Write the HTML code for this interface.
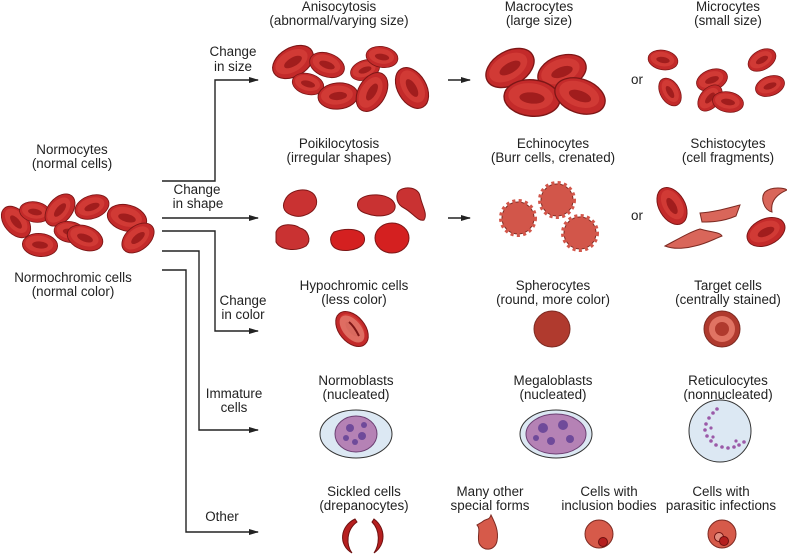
<!DOCTYPE html>
<html><head><meta charset="utf-8"><style>
html,body{margin:0;padding:0;background:#fff}
svg{display:block}
text{font-family:"Liberation Sans",sans-serif;font-size:13.4px;fill:#222;text-anchor:middle}
</style></head><body>
<svg width="787" height="554" viewBox="0 0 787 554" xmlns="http://www.w3.org/2000/svg">
<defs>
<marker id="ar" markerWidth="10" markerHeight="8" refX="9" refY="4" orient="auto" markerUnits="userSpaceOnUse">
<path d="M0,1 L10,4 L0,7 Z" fill="#222"/></marker>
<g id="c">
<ellipse cx="0" cy="0" rx="20" ry="13" fill="#c32a2a" stroke="#7d1616" stroke-width="1"/>
<ellipse cx="-1" cy="-1" rx="16" ry="9.5" fill="#d13a35"/>
<ellipse cx="0" cy="0" rx="9" ry="4" fill="#a11d1d"/>
</g>
</defs>

<g stroke="#222" stroke-width="1.4" fill="none">
<polyline points="162,181 215,181 215,80 258,80" marker-end="url(#ar)"/>
<polyline points="162,218 258,218" marker-end="url(#ar)"/>
<polyline points="162,231 215,231 215,331 258,331" marker-end="url(#ar)"/>
<polyline points="162,251 199,251 199,430 258,430" marker-end="url(#ar)"/>
<polyline points="162,270 186,270 186,532 258,532" marker-end="url(#ar)"/>
<line x1="448" y1="80" x2="470" y2="80" marker-end="url(#ar)"/>
<line x1="448" y1="218" x2="470" y2="218" marker-end="url(#ar)"/>
</g>

<text x="72" y="154">Normocytes</text><text x="72" y="168">(normal cells)</text>
<text x="73" y="282">Normochromic cells</text><text x="73" y="296">(normal color)</text>
<text x="233" y="56">Change</text><text x="233" y="71">in size</text>
<text x="197" y="194">Change</text><text x="198" y="208">in shape</text>
<text x="243" y="305">Change</text><text x="243" y="319">in color</text>
<text x="234" y="398">Immature</text><text x="234" y="412">cells</text>
<text x="222" y="521">Other</text>
<text x="339" y="11">Anisocytosis</text><text x="339" y="25">(abnormal/varying size)</text>
<text x="539" y="11">Macrocytes</text><text x="539" y="25">(large size)</text>
<text x="728" y="11">Microcytes</text><text x="728" y="25">(small size)</text>
<text x="339" y="148">Poikilocytosis</text><text x="339" y="162">(irregular shapes)</text>
<text x="553" y="148">Echinocytes</text><text x="553" y="162">(Burr cells, crenated)</text>
<text x="728" y="148">Schistocytes</text><text x="728" y="162">(cell fragments)</text>
<text x="354" y="290">Hypochromic cells</text><text x="354" y="304">(less color)</text>
<text x="553" y="290">Spherocytes</text><text x="553" y="304">(round, more color)</text>
<text x="728" y="290">Target cells</text><text x="728" y="304">(centrally stained)</text>
<text x="356" y="385">Normoblasts</text><text x="356" y="399">(nucleated)</text>
<text x="553" y="385">Megaloblasts</text><text x="553" y="399">(nucleated)</text>
<text x="728" y="385">Reticulocytes</text><text x="728" y="399">(nonnucleated)</text>
<text x="364" y="496">Sickled cells</text><text x="364" y="510">(drepanocytes)</text>
<text x="490" y="496">Many other</text><text x="490" y="510">special forms</text>
<text x="609" y="496">Cells with</text><text x="609" y="510">inclusion bodies</text>
<text x="721" y="496">Cells with</text><text x="721" y="510">parasitic infections</text>
<text x="637" y="84">or</text><text x="637" y="220">or</text>

<use href="#c" transform="translate(16,222) rotate(50) scale(0.9)"/>
<use href="#c" transform="translate(35,212) rotate(10) scale(0.78)"/>
<use href="#c" transform="translate(60,210) rotate(-50) scale(0.92)"/>
<use href="#c" transform="translate(92,207) rotate(-20) scale(0.88)"/>
<use href="#c" transform="translate(70,232) rotate(10) scale(0.8)"/>
<use href="#c" transform="translate(127,218) rotate(15) scale(1)"/>
<use href="#c" transform="translate(40,245) rotate(5) scale(0.88)"/>
<use href="#c" transform="translate(85,238) rotate(20) scale(0.92)"/>
<use href="#c" transform="translate(138,238) rotate(-40) scale(0.92)"/>

<use href="#c" transform="translate(293,62) rotate(-30) scale(1.1)"/>
<use href="#c" transform="translate(327,65) rotate(20) scale(0.9)"/>
<use href="#c" transform="translate(308,84) rotate(15) scale(0.8)"/>
<use href="#c" transform="translate(338,96) rotate(-5) scale(1)"/>
<use href="#c" transform="translate(365,70) rotate(-20) scale(0.75)"/>
<use href="#c" transform="translate(382,57) rotate(10) scale(0.8)"/>
<use href="#c" transform="translate(372,92) rotate(-60) scale(1.05)"/>
<use href="#c" transform="translate(412,88) rotate(60) scale(1.1)"/>

<use href="#c" transform="translate(510,68) rotate(-30) scale(1.3)"/>
<use href="#c" transform="translate(562,72) rotate(-20) scale(1.25)"/>
<use href="#c" transform="translate(532,98) rotate(5) scale(1.4)"/>
<use href="#c" transform="translate(580,96) rotate(20) scale(1.3)"/>

<use href="#c" transform="translate(663,60) rotate(10) scale(0.75)"/>
<use href="#c" transform="translate(670,92) rotate(60) scale(0.75)"/>
<use href="#c" transform="translate(712,80) rotate(-20) scale(0.8)"/>
<use href="#c" transform="translate(710,98) rotate(-50) scale(0.75)"/>
<use href="#c" transform="translate(728,102) rotate(10) scale(0.78)"/>
<use href="#c" transform="translate(762,60) rotate(-30) scale(0.75)"/>
<use href="#c" transform="translate(770,86) rotate(-20) scale(0.75)"/>

<g stroke="#7d1616" stroke-width="1">
<path d="M285,200 C290,188 312,186 316,198 C320,210 305,218 295,216 C285,214 281,208 285,200Z" fill="#c93232"/>
<path d="M276,232 C280,222 295,224 300,228 C308,230 312,240 306,246 C296,252 280,250 276,242Z" fill="#c93232"/>
<path d="M334,232 C345,228 360,228 364,236 C368,248 350,252 340,250 C330,248 328,238 334,232Z" fill="#d42020"/>
<path d="M358,202 C362,192 392,192 395,205 C397,216 378,218 368,214 C360,212 356,208 358,202Z" fill="#c93232"/>
<path d="M398,192 C402,186 418,186 420,196 C422,206 428,214 424,220 C418,222 412,212 404,208 C396,204 396,196 398,192Z" fill="#c93232"/>
<ellipse cx="392" cy="238" rx="17" ry="15" fill="#d42020"/>
</g>

<g fill="#d2564a" stroke="#7d2a22">
<circle cx="518" cy="218" r="16" stroke-width="1"/>
<circle cx="518" cy="218" r="17" fill="none" stroke="#d2564a" stroke-width="4" stroke-dasharray="3 3.2"/>
<circle cx="557" cy="200" r="16" stroke-width="1"/>
<circle cx="557" cy="200" r="17" fill="none" stroke="#d2564a" stroke-width="4" stroke-dasharray="3 3.2"/>
<circle cx="580" cy="233" r="16" stroke-width="1"/>
<circle cx="580" cy="233" r="17" fill="none" stroke="#d2564a" stroke-width="4" stroke-dasharray="3 3.2"/>
</g>

<use href="#c" transform="translate(672,206) rotate(60) scale(1)"/>
<use href="#c" transform="translate(766,232) rotate(-25) scale(1)"/>
<g fill="#d9665a" stroke="#7d2a22" stroke-width="1">
<path d="M765,192 C772,186 785,188 787,190 C778,194 770,200 772,212 C764,210 760,198 765,192Z"/>
<path d="M700,213 C715,212 728,208 740,205 L736,216 C722,222 710,222 702,222Z"/>
<path d="M665,246 C680,238 690,232 700,229 C710,232 720,232 722,236 C712,240 705,244 695,246 C688,248 675,250 665,246Z"/>
</g>

<use href="#c" transform="translate(352,329) rotate(50) scale(1)"/>
<ellipse cx="352" cy="329" rx="16" ry="9" transform="rotate(50 352 329)" fill="#e2776a" opacity="0.85"/>
<path d="M349,322 C354,326 357,332 359,336" stroke="#7d1616" stroke-width="2" fill="none"/>
<circle cx="552" cy="329" r="18" fill="#b03a2e" stroke="#7d2a22"/>
<circle cx="722" cy="329" r="18" fill="#b03a2e" stroke="#7d2a22"/>
<circle cx="722" cy="329" r="13" fill="#e07363"/>
<circle cx="722" cy="329" r="7" fill="#b03a2e"/>

<ellipse cx="356" cy="434" rx="36" ry="24" fill="#dce8f3" stroke="#333" stroke-width="1"/>
<ellipse cx="356" cy="434" rx="21" ry="18" fill="#b582b5" stroke="#6b3f72"/>
<g fill="#6f4a9a"><circle cx="350" cy="428" r="4"/><circle cx="362" cy="436" r="4"/><circle cx="355" cy="442" r="3"/><circle cx="364" cy="425" r="3"/><circle cx="346" cy="438" r="3"/></g>
<ellipse cx="556" cy="434" rx="36" ry="24" fill="#dce8f3" stroke="#333" stroke-width="1"/>
<ellipse cx="556" cy="434" rx="30" ry="20" fill="#b582b5" stroke="#6b3f72"/>
<g fill="#6f4a9a"><circle cx="543" cy="428" r="5"/><circle cx="563" cy="425" r="5"/><circle cx="551" cy="441" r="4"/><circle cx="570" cy="439" r="4"/><circle cx="536" cy="438" r="3"/></g>
<circle cx="720" cy="431" r="31" fill="#dce8f3" stroke="#333" stroke-width="1"/>
<g fill="#9b5aa8">
<circle cx="713" cy="413" r="1.8"/><circle cx="709" cy="418" r="1.8"/><circle cx="706" cy="424" r="1.8"/><circle cx="705" cy="430" r="1.8"/><circle cx="707" cy="436" r="1.8"/><circle cx="711" cy="441" r="1.8"/><circle cx="716" cy="445" r="1.8"/><circle cx="722" cy="447" r="1.8"/><circle cx="728" cy="448" r="1.8"/><circle cx="734" cy="447" r="1.8"/><circle cx="739" cy="445" r="1.8"/><circle cx="744" cy="442" r="1.8"/><circle cx="717" cy="409" r="1.8"/><circle cx="711" cy="428" r="1.6"/><circle cx="713" cy="437" r="1.6"/><circle cx="736" cy="441" r="1.6"/>
</g>

<path d="M355,519 C340,526 338,545 352,553 C346,545 346,530 357,522Z" fill="#b61f1f" stroke="#6d1010"/>
<path d="M374,519 C386,528 386,545 374,553 C380,544 380,530 372,522Z" fill="#b61f1f" stroke="#6d1010"/>
<path d="M482,522 C486,518 489,521 491,515 C495,523 499,531 497,541 C495,551 483,552 479,543 C477,535 481,529 477,525Z" fill="#d65a4a" stroke="#7d2a22"/>
<circle cx="599" cy="534" r="14" fill="#d65a4a" stroke="#7d2a22"/>
<circle cx="603" cy="542" r="4.5" fill="#b41e1e" stroke="#6d1010"/>
<circle cx="722" cy="534" r="14" fill="#d65a4a" stroke="#7d2a22"/>
<circle cx="719" cy="537" r="4.5" fill="#e28c7e" stroke="#6d1010"/>
<circle cx="724" cy="541" r="4.5" fill="#b41e1e" stroke="#6d1010"/>
</svg>
</body></html>
